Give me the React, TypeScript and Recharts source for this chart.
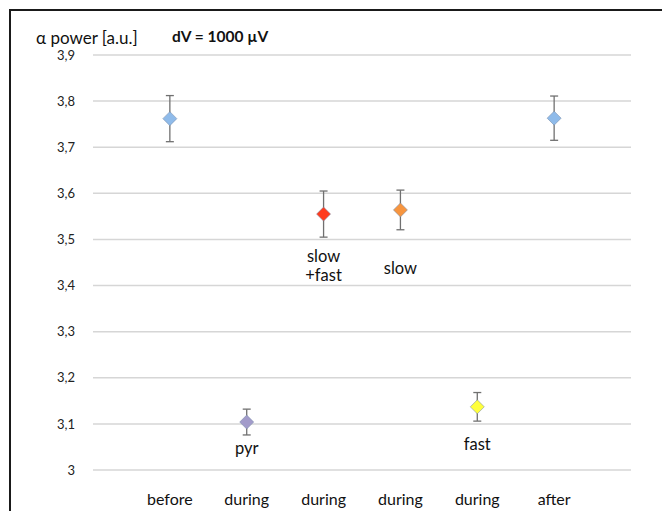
import { ScatterChart, Scatter, XAxis, YAxis, CartesianGrid, ErrorBar, Cell } from 'recharts';

const CATEGORIES = ['before', 'during', 'during', 'during', 'during', 'after'];
const POWER = [3.762, 3.104, 3.555, 3.564, 3.137, 3.763];
const ERRORS = [0.05, 0.028, 0.05, 0.043, 0.031, 0.048];
const COLORS = ['#8fbbea', '#a29bca', '#ff3b1d', '#f7953f', '#ffff3c', '#8fbbea'];
const NOTES = ['pyr', 'slow\n+fast', 'slow', 'fast'];
const NOTE_AT = [2, 3, 4, 5];
const NOTE_Y = [3.047, 3.464, 3.439, 3.056];
const Y_TICKS = [3, 3.1, 3.2, 3.3, 3.4, 3.5, 3.6, 3.7, 3.8, 3.9];

const FONT = 'Lato, "Open Sans", sans-serif';

const points = CATEGORIES.map((c, i) => ({ x: i + 1, y: POWER[i], err: ERRORS[i], name: c }));
const notes = NOTES.map((t, i) => ({ x: NOTE_AT[i], y: NOTE_Y[i], text: t }));

const Diamond = (props: any) => {
  const { cx, cy, fill } = props;
  if (cx == null || cy == null) return null;
  const r = 7;
  return (
    <path
      d={`M${cx},${cy - r} L${cx + r},${cy} L${cx},${cy + r} L${cx - r},${cy} Z`}
      fill={fill}
      stroke="rgba(120,140,170,0.55)"
      strokeWidth={1}
    />
  );
};

const NoteText = (props: any) => {
  const { cx, cy, payload } = props;
  if (cx == null || cy == null) return null;
  const lines = String(payload.text).split('\n');
  return (
    <text x={cx} y={cy} textAnchor="middle" dominantBaseline="central" fontSize={16.5} fill="#111" fontFamily={FONT}>
      {lines.map((l, i) => (
        <tspan key={i} x={cx} dy={i === 0 ? 0 : 19}>
          {l}
        </tspan>
      ))}
    </text>
  );
};

export default function App() {
  return (
    <div
      style={{
        position: 'absolute',
        left: 0,
        top: 0,
        width: 662,
        height: 511,
        overflow: 'hidden',
        background: '#fff',
        fontFamily: FONT,
      }}
    >
      <div
        style={{
          position: 'absolute',
          left: 9,
          top: 9,
          width: 720,
          height: 600,
          borderLeft: '2px solid #1a1a1a',
          borderTop: '2px solid #1a1a1a',
        }}
      />
      <div style={{ position: 'absolute', left: 36, top: 27, fontSize: 17, color: '#111', whiteSpace: 'nowrap' }}>
        α power [a.u.]
      </div>
      <div
        style={{ position: 'absolute', left: 172, top: 27, fontSize: 15.5, fontWeight: 700, color: '#111', whiteSpace: 'nowrap' }}
      >
        dV = 1000 µV
      </div>
      <div style={{ position: 'absolute', left: 0, top: 0 }}>
        <ScatterChart width={662} height={511} margin={{ top: 55, right: 31, bottom: 0, left: 33 }}>
          <CartesianGrid vertical={false} stroke="#d6d6d6" strokeWidth={1.5} />
          <XAxis
            type="number"
            dataKey="x"
            domain={[0, 7]}
            ticks={[1, 2, 3, 4, 5, 6]}
            tickFormatter={(v: number) => CATEGORIES[v - 1]}
            axisLine={false}
            tickLine={false}
            height={41}
            tickSize={0}
            tickMargin={24}
            tick={{ fontSize: 16, fill: '#111', fontFamily: FONT }}
          />
          <YAxis
            type="number"
            dataKey="y"
            domain={[3, 3.9]}
            ticks={Y_TICKS}
            tickFormatter={(v: number) => String(v).replace('.', ',')}
            axisLine={false}
            tickLine={false}
            tickSize={0}
            tickMargin={18}
            width={60}
            tick={{ fontSize: 13, fill: '#222', fontFamily: FONT }}
          />
          <Scatter data={points} shape={Diamond} isAnimationActive={false}>
            {points.map((p, i) => (
              <Cell key={i} fill={COLORS[i]} />
            ))}
            <ErrorBar dataKey="err" direction="y" width={4} stroke="#707070" strokeWidth={1.3} />
          </Scatter>
          <Scatter data={notes} shape={NoteText} isAnimationActive={false} />
        </ScatterChart>
      </div>
    </div>
  );
}
